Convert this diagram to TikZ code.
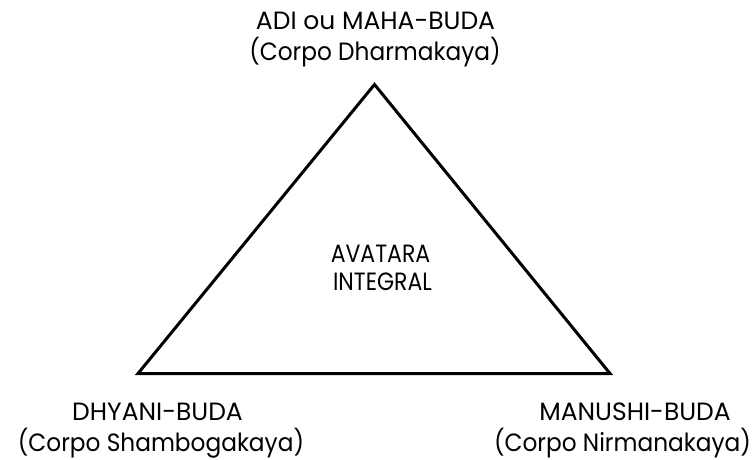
\documentclass[tikz,border=0pt]{standalone}
\usepackage{fontspec}
\setmainfont{Poppins}
\newfontfamily\narrowpop[FakeStretch=0.93]{Poppins}
\newfontfamily\narrowerpop[FakeStretch=0.88]{Poppins}
\begin{document}
\begin{tikzpicture}[x=1pt,y=-1pt,
  lbl/.style={anchor=base,inner sep=0pt,font=\fontsize{25}{30}\selectfont},
  sub/.style={lbl,font=\fontsize{25}{30}\narrowpop},
  mid/.style={lbl,font=\fontsize{25}{30}\narrowerpop},
  edge/.style={line width=3pt,line join=miter}]
\useasboundingbox (0,0) rectangle (755,460);
\coordinate (apex) at (374.5,84.5);
\coordinate (bl) at (138,373.5);
\coordinate (br) at (610,373.5);
\draw[edge] (apex) -- (bl) -- (br) -- cycle;
\node[lbl] (t1) at (375.5,30) {ADI ou MAHA-BUDA};
\node[sub] (t2) at (375,60) {(Corpo Dharmakaya)};
\node[mid] (c1) at (380.5,262) {AVATARA};
\node[mid] (c2) at (382.5,290) {INTEGRAL};
\node[lbl] (l1) at (157.5,420) {DHYANI-BUDA};
\node[sub] (l2) at (161,451) {(Corpo Shambogakaya)};
\node[lbl] (r1) at (635,420) {MANUSHI-BUDA};
\node[sub] (r2) at (622.5,451) {(Corpo Nirmanakaya)};
\end{tikzpicture}
\end{document}
